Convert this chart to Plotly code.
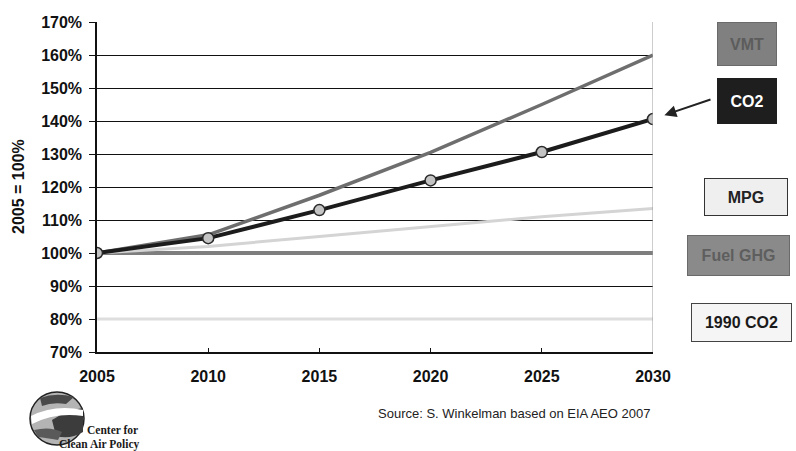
import plotly.graph_objects as go

# Index values, 2005 = 100%
years = [2005, 2010, 2015, 2020, 2025, 2030]
vmt = [100, 105.5, 117.5, 130.5, 145, 160]
co2 = [100, 104.5, 113, 122, 130.6, 140.6]
mpg = [100, 102, 105, 108, 111, 113.5]
fuel_ghg = [100, 100, 100, 100, 100, 100]
co2_1990 = [80, 80, 80, 80, 80, 80]

y_ticks = list(range(70, 171, 10))
x_ticks = years

W, H = 796, 451
L, R, T, B = 97, 143, 22, 99
PW, PH = W - L - R, H - T - B


def px(x):
    return (x - L) / PW


def py(y):
    return (H - B - y) / PH


fig = go.Figure()

fig.add_trace(go.Scatter(x=years, y=co2_1990, mode="lines",
                         line=dict(color="#dedede", width=3), name="1990 CO2"))
fig.add_trace(go.Scatter(x=years, y=fuel_ghg, mode="lines",
                         line=dict(color="#7e7e7e", width=4), name="Fuel GHG"))
fig.add_trace(go.Scatter(x=years, y=mpg, mode="lines",
                         line=dict(color="#d4d4d4", width=3), name="MPG"))
fig.add_trace(go.Scatter(x=years, y=vmt, mode="lines",
                         line=dict(color="#6e6e6e", width=3.5), name="VMT"))
fig.add_trace(go.Scatter(x=years, y=co2, mode="lines+markers",
                         line=dict(color="#1c1c1c", width=4),
                         marker=dict(size=11, color="#c4c4c4",
                                     line=dict(color="#2a2a2a", width=1.5)),
                         name="CO2"))

tick_font = dict(family="Liberation Sans, Arial, sans-serif", size=16,
                 color="#111111", weight="bold")

fig.update_layout(
    width=W, height=H,
    margin=dict(l=L, r=R, t=T, b=B),
    paper_bgcolor="white", plot_bgcolor="white",
    showlegend=False,
    xaxis=dict(range=[2005, 2030], tickvals=x_ticks, showgrid=False,
               zeroline=False, showline=True, linecolor="#111111", linewidth=1.5,
               ticks="inside", ticklen=4, tickcolor="#111111",
               tickfont=tick_font, ticklabelstandoff=9),
    yaxis=dict(range=[70, 170], tickvals=y_ticks,
               ticktext=[f"{v}%" for v in y_ticks],
               showgrid=True, gridcolor="#111111", gridwidth=1.2,
               zeroline=False, showline=True, linecolor="#111111", linewidth=1.5,
               ticks="outside", ticklen=6, tickcolor="#111111",
               tickfont=tick_font, ticklabelstandoff=4),
)

shapes = [
    # right frame edge
    dict(type="line", xref="x", yref="y", x0=2030, x1=2030, y0=70, y1=170,
         line=dict(color="#9a9a9a", width=1)),
    # logo globe
    dict(type="circle", xref="paper", yref="paper",
         x0=px(30), x1=px(84), y0=py(445), y1=py(392),
         fillcolor="#b4b4b4", line=dict(color="#222222", width=1.5)),
    dict(type="path", xref="paper", yref="paper",
         path=f"M {px(52)},{py(420)} Q {px(68)},{py(410)} {px(83)},{py(408)} "
              f"L {px(83)},{py(432)} Q {px(70)},{py(440)} {px(56)},{py(436)} Z",
         fillcolor="#3c3c3c", line=dict(width=0)),
    dict(type="path", xref="paper", yref="paper",
         path=f"M {px(31)},{py(416)} Q {px(55)},{py(404)} {px(83)},{py(410)} "
              f"L {px(83)},{py(416)} Q {px(55)},{py(412)} {px(32)},{py(424)} Z",
         fillcolor="white", line=dict(width=0)),
    dict(type="path", xref="paper", yref="paper",
         path=f"M {px(40)},{py(398)} Q {px(56)},{py(392)} {px(74)},{py(397)} "
              f"L {px(66)},{py(404)} Q {px(52)},{py(402)} {px(42)},{py(406)} Z",
         fillcolor="#4a4a4a", line=dict(width=0)),
    dict(type="path", xref="paper", yref="paper",
         path=f"M {px(34)},{py(430)} Q {px(50)},{py(426)} {px(62)},{py(432)} "
              f"L {px(58)},{py(440)} Q {px(46)},{py(438)} {px(38)},{py(437)} Z",
         fillcolor="#5a5a5a", line=dict(width=0)),
]
fig.update_layout(shapes=shapes)

box_font = dict(family="Liberation Sans, Arial, sans-serif", size=16, weight="bold")
boxes = [
    ("VMT", 747, 44, 60, 44, "#808080", "#5c5c5c", "#6a6a6a"),
    ("CO2", 747, 101, 60, 46, "#1e1e1e", "#ffffff", "#1e1e1e"),
    ("MPG", 746, 197, 84, 38, "#efefef", "#222222", "#333333"),
    ("Fuel GHG", 738, 255, 103, 41, "#8a8a8a", "#5e5e5e", "#6a6a6a"),
    ("1990 CO2", 741, 322, 101, 39, "#f5f5f5", "#1a1a1a", "#444444"),
]
annotations = []
for label, cx, cy, w, h, bg, fg, border in boxes:
    annotations.append(dict(
        text=label, xref="paper", yref="paper", x=px(cx), y=py(cy),
        xanchor="center", yanchor="middle", showarrow=False,
        width=w - 2, height=h - 2, bgcolor=bg, bordercolor=border,
        borderwidth=1, borderpad=0, align="center", valign="middle",
        font=dict(box_font, color=fg)))

# arrow from the CO2 box to the 2030 value
annotations.append(dict(
    x=2030, y=co2[-1], xref="x", yref="y", ax=59, ay=-20,
    showarrow=True, arrowhead=2, arrowsize=1.2, arrowwidth=2,
    arrowcolor="#222222", standoff=12, text=""))

logo_font = dict(family="Liberation Serif, Times New Roman, serif", size=11.5,
                 color="#1a1a1a", weight="bold")
annotations += [
    dict(text="2005 = 100%", xref="paper", yref="paper", x=px(18), y=py(187),
         textangle=-90, showarrow=False, xanchor="center", yanchor="middle",
         font=dict(family="Liberation Sans, Arial, sans-serif", size=16,
                   color="#111111", weight="bold")),
    dict(text="Source: S. Winkelman based on EIA AEO 2007", xref="paper",
         yref="paper", x=px(376), y=py(413), xanchor="left", yanchor="middle",
         showarrow=False,
         font=dict(family="Liberation Sans, Arial, sans-serif", size=13,
                   color="#222222")),
    dict(text="Center for", xref="paper", yref="paper", x=px(140), y=py(430),
         xanchor="right", yanchor="middle", showarrow=False, font=logo_font),
    dict(text="Clean Air Policy", xref="paper", yref="paper", x=px(142), y=py(444),
         xanchor="right", yanchor="middle", showarrow=False, font=logo_font),
]
fig.update_layout(annotations=annotations)

fig.write_html("out.html")
